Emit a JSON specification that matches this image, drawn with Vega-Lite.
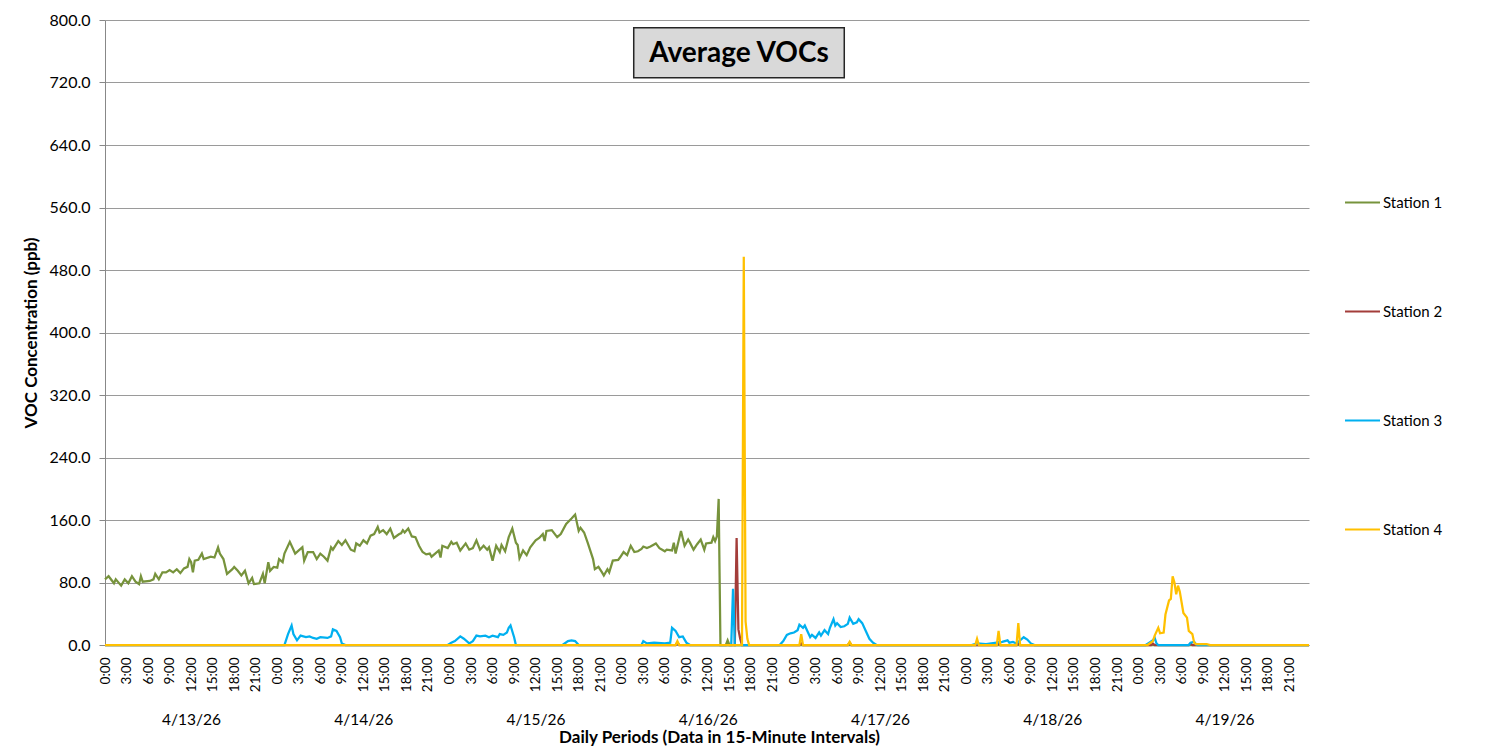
{
"$schema": "https://vega.github.io/schema/vega-lite/v6.json",
"width": 1204,
"height": 625,
"autosize": {"type": "none"},
"padding": {"left": 105, "top": 20, "right": 177, "bottom": 109},
"background": "white",
"layer": [
{
"data": {"format": {"parse": {"t": "date:'%Y-%m-%d %H:%M'"}}, "values": [
{"t":"2026-04-13 00:00","s":"Station 1","v":84},
{"t":"2026-04-13 00:30","s":"Station 1","v":88},
{"t":"2026-04-13 01:15","s":"Station 1","v":79},
{"t":"2026-04-13 01:30","s":"Station 1","v":84},
{"t":"2026-04-13 02:15","s":"Station 1","v":76},
{"t":"2026-04-13 02:45","s":"Station 1","v":84},
{"t":"2026-04-13 03:15","s":"Station 1","v":79},
{"t":"2026-04-13 03:45","s":"Station 1","v":88},
{"t":"2026-04-13 04:15","s":"Station 1","v":81},
{"t":"2026-04-13 04:45","s":"Station 1","v":78},
{"t":"2026-04-13 05:00","s":"Station 1","v":88},
{"t":"2026-04-13 05:15","s":"Station 1","v":81},
{"t":"2026-04-13 06:15","s":"Station 1","v":82},
{"t":"2026-04-13 06:45","s":"Station 1","v":84},
{"t":"2026-04-13 07:00","s":"Station 1","v":91},
{"t":"2026-04-13 07:30","s":"Station 1","v":84},
{"t":"2026-04-13 08:00","s":"Station 1","v":93},
{"t":"2026-04-13 08:30","s":"Station 1","v":93},
{"t":"2026-04-13 09:00","s":"Station 1","v":96},
{"t":"2026-04-13 09:30","s":"Station 1","v":93},
{"t":"2026-04-13 10:00","s":"Station 1","v":97},
{"t":"2026-04-13 10:30","s":"Station 1","v":92},
{"t":"2026-04-13 11:00","s":"Station 1","v":98},
{"t":"2026-04-13 11:30","s":"Station 1","v":100},
{"t":"2026-04-13 11:45","s":"Station 1","v":110},
{"t":"2026-04-13 12:00","s":"Station 1","v":106},
{"t":"2026-04-13 12:15","s":"Station 1","v":93},
{"t":"2026-04-13 12:30","s":"Station 1","v":108},
{"t":"2026-04-13 13:00","s":"Station 1","v":109},
{"t":"2026-04-13 13:30","s":"Station 1","v":117},
{"t":"2026-04-13 13:45","s":"Station 1","v":110},
{"t":"2026-04-13 14:45","s":"Station 1","v":113},
{"t":"2026-04-13 15:15","s":"Station 1","v":112},
{"t":"2026-04-13 15:45","s":"Station 1","v":125},
{"t":"2026-04-13 16:00","s":"Station 1","v":117},
{"t":"2026-04-13 16:30","s":"Station 1","v":110},
{"t":"2026-04-13 17:00","s":"Station 1","v":91},
{"t":"2026-04-13 17:45","s":"Station 1","v":97},
{"t":"2026-04-13 18:00","s":"Station 1","v":100},
{"t":"2026-04-13 18:30","s":"Station 1","v":95},
{"t":"2026-04-13 19:00","s":"Station 1","v":89},
{"t":"2026-04-13 19:30","s":"Station 1","v":95},
{"t":"2026-04-13 20:00","s":"Station 1","v":79},
{"t":"2026-04-13 20:30","s":"Station 1","v":86},
{"t":"2026-04-13 20:45","s":"Station 1","v":78},
{"t":"2026-04-13 21:30","s":"Station 1","v":79},
{"t":"2026-04-13 22:00","s":"Station 1","v":91},
{"t":"2026-04-13 22:15","s":"Station 1","v":79},
{"t":"2026-04-13 22:45","s":"Station 1","v":106},
{"t":"2026-04-13 23:00","s":"Station 1","v":95},
{"t":"2026-04-13 23:30","s":"Station 1","v":100},
{"t":"2026-04-14 00:00","s":"Station 1","v":99},
{"t":"2026-04-14 00:15","s":"Station 1","v":110},
{"t":"2026-04-14 00:45","s":"Station 1","v":106},
{"t":"2026-04-14 01:00","s":"Station 1","v":117},
{"t":"2026-04-14 01:45","s":"Station 1","v":132},
{"t":"2026-04-14 02:30","s":"Station 1","v":117},
{"t":"2026-04-14 03:00","s":"Station 1","v":121},
{"t":"2026-04-14 03:30","s":"Station 1","v":125},
{"t":"2026-04-14 03:45","s":"Station 1","v":108},
{"t":"2026-04-14 04:15","s":"Station 1","v":119},
{"t":"2026-04-14 05:00","s":"Station 1","v":119},
{"t":"2026-04-14 05:30","s":"Station 1","v":110},
{"t":"2026-04-14 06:00","s":"Station 1","v":117},
{"t":"2026-04-14 06:30","s":"Station 1","v":113},
{"t":"2026-04-14 07:00","s":"Station 1","v":108},
{"t":"2026-04-14 07:30","s":"Station 1","v":125},
{"t":"2026-04-14 07:45","s":"Station 1","v":122},
{"t":"2026-04-14 08:30","s":"Station 1","v":133},
{"t":"2026-04-14 09:00","s":"Station 1","v":128},
{"t":"2026-04-14 09:30","s":"Station 1","v":134},
{"t":"2026-04-14 10:15","s":"Station 1","v":122},
{"t":"2026-04-14 10:45","s":"Station 1","v":120},
{"t":"2026-04-14 11:00","s":"Station 1","v":130},
{"t":"2026-04-14 11:30","s":"Station 1","v":127},
{"t":"2026-04-14 12:00","s":"Station 1","v":134},
{"t":"2026-04-14 12:30","s":"Station 1","v":130},
{"t":"2026-04-14 13:00","s":"Station 1","v":140},
{"t":"2026-04-14 13:30","s":"Station 1","v":142},
{"t":"2026-04-14 14:00","s":"Station 1","v":151},
{"t":"2026-04-14 14:15","s":"Station 1","v":144},
{"t":"2026-04-14 14:45","s":"Station 1","v":147},
{"t":"2026-04-14 15:15","s":"Station 1","v":142},
{"t":"2026-04-14 15:45","s":"Station 1","v":149},
{"t":"2026-04-14 16:15","s":"Station 1","v":137},
{"t":"2026-04-14 17:00","s":"Station 1","v":142},
{"t":"2026-04-14 17:15","s":"Station 1","v":143},
{"t":"2026-04-14 17:30","s":"Station 1","v":147},
{"t":"2026-04-14 17:45","s":"Station 1","v":144},
{"t":"2026-04-14 18:15","s":"Station 1","v":149},
{"t":"2026-04-14 18:45","s":"Station 1","v":139},
{"t":"2026-04-14 19:15","s":"Station 1","v":138},
{"t":"2026-04-14 19:45","s":"Station 1","v":127},
{"t":"2026-04-14 20:15","s":"Station 1","v":119},
{"t":"2026-04-14 20:45","s":"Station 1","v":116},
{"t":"2026-04-14 21:15","s":"Station 1","v":117},
{"t":"2026-04-14 21:30","s":"Station 1","v":113},
{"t":"2026-04-14 22:00","s":"Station 1","v":117},
{"t":"2026-04-14 22:30","s":"Station 1","v":121},
{"t":"2026-04-14 22:45","s":"Station 1","v":112},
{"t":"2026-04-14 23:00","s":"Station 1","v":127},
{"t":"2026-04-14 23:45","s":"Station 1","v":124},
{"t":"2026-04-15 00:15","s":"Station 1","v":132},
{"t":"2026-04-15 00:30","s":"Station 1","v":129},
{"t":"2026-04-15 01:00","s":"Station 1","v":131},
{"t":"2026-04-15 01:30","s":"Station 1","v":121},
{"t":"2026-04-15 02:15","s":"Station 1","v":130},
{"t":"2026-04-15 02:45","s":"Station 1","v":122},
{"t":"2026-04-15 03:15","s":"Station 1","v":124},
{"t":"2026-04-15 03:45","s":"Station 1","v":134},
{"t":"2026-04-15 04:15","s":"Station 1","v":122},
{"t":"2026-04-15 04:45","s":"Station 1","v":127},
{"t":"2026-04-15 05:15","s":"Station 1","v":122},
{"t":"2026-04-15 05:30","s":"Station 1","v":125},
{"t":"2026-04-15 06:00","s":"Station 1","v":108},
{"t":"2026-04-15 06:30","s":"Station 1","v":127},
{"t":"2026-04-15 07:00","s":"Station 1","v":119},
{"t":"2026-04-15 07:15","s":"Station 1","v":128},
{"t":"2026-04-15 07:45","s":"Station 1","v":120},
{"t":"2026-04-15 08:15","s":"Station 1","v":138},
{"t":"2026-04-15 08:45","s":"Station 1","v":149},
{"t":"2026-04-15 09:15","s":"Station 1","v":131},
{"t":"2026-04-15 09:30","s":"Station 1","v":128},
{"t":"2026-04-15 09:45","s":"Station 1","v":111},
{"t":"2026-04-15 10:15","s":"Station 1","v":121},
{"t":"2026-04-15 10:45","s":"Station 1","v":115},
{"t":"2026-04-15 11:15","s":"Station 1","v":125},
{"t":"2026-04-15 12:00","s":"Station 1","v":134},
{"t":"2026-04-15 12:30","s":"Station 1","v":137},
{"t":"2026-04-15 13:00","s":"Station 1","v":142},
{"t":"2026-04-15 13:15","s":"Station 1","v":133},
{"t":"2026-04-15 13:30","s":"Station 1","v":146},
{"t":"2026-04-15 14:15","s":"Station 1","v":147},
{"t":"2026-04-15 15:00","s":"Station 1","v":138},
{"t":"2026-04-15 15:30","s":"Station 1","v":142},
{"t":"2026-04-15 16:15","s":"Station 1","v":155},
{"t":"2026-04-15 17:00","s":"Station 1","v":162},
{"t":"2026-04-15 17:30","s":"Station 1","v":167},
{"t":"2026-04-15 18:00","s":"Station 1","v":146},
{"t":"2026-04-15 18:15","s":"Station 1","v":150},
{"t":"2026-04-15 18:45","s":"Station 1","v":144},
{"t":"2026-04-15 19:15","s":"Station 1","v":131},
{"t":"2026-04-15 20:00","s":"Station 1","v":110},
{"t":"2026-04-15 20:15","s":"Station 1","v":97},
{"t":"2026-04-15 20:45","s":"Station 1","v":100},
{"t":"2026-04-15 21:15","s":"Station 1","v":93},
{"t":"2026-04-15 21:30","s":"Station 1","v":89},
{"t":"2026-04-15 22:00","s":"Station 1","v":97},
{"t":"2026-04-15 22:15","s":"Station 1","v":93},
{"t":"2026-04-15 22:45","s":"Station 1","v":108},
{"t":"2026-04-15 23:30","s":"Station 1","v":109},
{"t":"2026-04-15 23:45","s":"Station 1","v":112},
{"t":"2026-04-16 00:15","s":"Station 1","v":119},
{"t":"2026-04-16 00:45","s":"Station 1","v":115},
{"t":"2026-04-16 01:15","s":"Station 1","v":127},
{"t":"2026-04-16 01:45","s":"Station 1","v":119},
{"t":"2026-04-16 02:15","s":"Station 1","v":120},
{"t":"2026-04-16 02:45","s":"Station 1","v":123},
{"t":"2026-04-16 03:00","s":"Station 1","v":126},
{"t":"2026-04-16 03:30","s":"Station 1","v":124},
{"t":"2026-04-16 04:00","s":"Station 1","v":126},
{"t":"2026-04-16 04:45","s":"Station 1","v":130},
{"t":"2026-04-16 05:15","s":"Station 1","v":124},
{"t":"2026-04-16 06:00","s":"Station 1","v":120},
{"t":"2026-04-16 06:15","s":"Station 1","v":122},
{"t":"2026-04-16 07:00","s":"Station 1","v":121},
{"t":"2026-04-16 07:15","s":"Station 1","v":131},
{"t":"2026-04-16 07:30","s":"Station 1","v":117},
{"t":"2026-04-16 08:15","s":"Station 1","v":146},
{"t":"2026-04-16 08:45","s":"Station 1","v":127},
{"t":"2026-04-16 09:15","s":"Station 1","v":135},
{"t":"2026-04-16 09:30","s":"Station 1","v":131},
{"t":"2026-04-16 10:00","s":"Station 1","v":122},
{"t":"2026-04-16 10:30","s":"Station 1","v":129},
{"t":"2026-04-16 11:00","s":"Station 1","v":135},
{"t":"2026-04-16 11:30","s":"Station 1","v":122},
{"t":"2026-04-16 11:45","s":"Station 1","v":130},
{"t":"2026-04-16 12:30","s":"Station 1","v":131},
{"t":"2026-04-16 12:45","s":"Station 1","v":138},
{"t":"2026-04-16 13:00","s":"Station 1","v":133},
{"t":"2026-04-16 13:15","s":"Station 1","v":139},
{"t":"2026-04-16 13:30","s":"Station 1","v":187},
{"t":"2026-04-16 13:45","s":"Station 1","v":0},
{"t":"2026-04-16 14:30","s":"Station 1","v":0},
{"t":"2026-04-16 14:45","s":"Station 1","v":6},
{"t":"2026-04-16 15:00","s":"Station 1","v":0},
{"t":"2026-04-19 23:45","s":"Station 1","v":0},
{"t":"2026-04-13 00:00","s":"Station 2","v":0},
{"t":"2026-04-16 07:30","s":"Station 2","v":0},
{"t":"2026-04-16 07:45","s":"Station 2","v":3},
{"t":"2026-04-16 08:00","s":"Station 2","v":0},
{"t":"2026-04-16 15:45","s":"Station 2","v":0},
{"t":"2026-04-16 16:00","s":"Station 2","v":137},
{"t":"2026-04-16 16:15","s":"Station 2","v":20},
{"t":"2026-04-16 16:30","s":"Station 2","v":8},
{"t":"2026-04-16 16:45","s":"Station 2","v":0},
{"t":"2026-04-17 00:45","s":"Station 2","v":0},
{"t":"2026-04-17 01:00","s":"Station 2","v":2},
{"t":"2026-04-17 01:15","s":"Station 2","v":0},
{"t":"2026-04-17 07:30","s":"Station 2","v":0},
{"t":"2026-04-17 07:45","s":"Station 2","v":3},
{"t":"2026-04-17 08:00","s":"Station 2","v":0},
{"t":"2026-04-18 04:15","s":"Station 2","v":0},
{"t":"2026-04-18 04:30","s":"Station 2","v":3},
{"t":"2026-04-18 04:45","s":"Station 2","v":0},
{"t":"2026-04-18 07:00","s":"Station 2","v":0},
{"t":"2026-04-18 07:15","s":"Station 2","v":3},
{"t":"2026-04-18 07:30","s":"Station 2","v":0},
{"t":"2026-04-19 01:45","s":"Station 2","v":0},
{"t":"2026-04-19 02:00","s":"Station 2","v":2},
{"t":"2026-04-19 02:15","s":"Station 2","v":0},
{"t":"2026-04-19 07:00","s":"Station 2","v":0},
{"t":"2026-04-19 07:15","s":"Station 2","v":2},
{"t":"2026-04-19 07:30","s":"Station 2","v":0},
{"t":"2026-04-19 23:45","s":"Station 2","v":0},
{"t":"2026-04-13 00:00","s":"Station 3","v":0},
{"t":"2026-04-14 01:00","s":"Station 3","v":0},
{"t":"2026-04-14 01:30","s":"Station 3","v":14},
{"t":"2026-04-14 02:00","s":"Station 3","v":25},
{"t":"2026-04-14 02:15","s":"Station 3","v":14},
{"t":"2026-04-14 02:45","s":"Station 3","v":6},
{"t":"2026-04-14 03:15","s":"Station 3","v":12},
{"t":"2026-04-14 04:00","s":"Station 3","v":10},
{"t":"2026-04-14 04:30","s":"Station 3","v":11},
{"t":"2026-04-14 05:00","s":"Station 3","v":9},
{"t":"2026-04-14 05:30","s":"Station 3","v":8},
{"t":"2026-04-14 06:00","s":"Station 3","v":10},
{"t":"2026-04-14 07:00","s":"Station 3","v":9},
{"t":"2026-04-14 07:30","s":"Station 3","v":11},
{"t":"2026-04-14 07:45","s":"Station 3","v":20},
{"t":"2026-04-14 08:15","s":"Station 3","v":18},
{"t":"2026-04-14 08:45","s":"Station 3","v":10},
{"t":"2026-04-14 09:00","s":"Station 3","v":2},
{"t":"2026-04-14 09:30","s":"Station 3","v":0},
{"t":"2026-04-14 23:45","s":"Station 3","v":0},
{"t":"2026-04-15 00:15","s":"Station 3","v":3},
{"t":"2026-04-15 00:45","s":"Station 3","v":5},
{"t":"2026-04-15 01:30","s":"Station 3","v":11},
{"t":"2026-04-15 02:00","s":"Station 3","v":8},
{"t":"2026-04-15 02:45","s":"Station 3","v":2},
{"t":"2026-04-15 03:15","s":"Station 3","v":5},
{"t":"2026-04-15 03:45","s":"Station 3","v":12},
{"t":"2026-04-15 04:15","s":"Station 3","v":11},
{"t":"2026-04-15 05:00","s":"Station 3","v":12},
{"t":"2026-04-15 05:30","s":"Station 3","v":10},
{"t":"2026-04-15 06:00","s":"Station 3","v":12},
{"t":"2026-04-15 06:45","s":"Station 3","v":10},
{"t":"2026-04-15 07:00","s":"Station 3","v":14},
{"t":"2026-04-15 07:30","s":"Station 3","v":13},
{"t":"2026-04-15 08:00","s":"Station 3","v":16},
{"t":"2026-04-15 08:15","s":"Station 3","v":22},
{"t":"2026-04-15 08:30","s":"Station 3","v":25},
{"t":"2026-04-15 09:00","s":"Station 3","v":10},
{"t":"2026-04-15 09:15","s":"Station 3","v":0},
{"t":"2026-04-15 15:45","s":"Station 3","v":0},
{"t":"2026-04-15 16:30","s":"Station 3","v":5},
{"t":"2026-04-15 17:00","s":"Station 3","v":6},
{"t":"2026-04-15 17:30","s":"Station 3","v":5},
{"t":"2026-04-15 18:00","s":"Station 3","v":0},
{"t":"2026-04-16 02:45","s":"Station 3","v":0},
{"t":"2026-04-16 03:00","s":"Station 3","v":5},
{"t":"2026-04-16 03:30","s":"Station 3","v":2},
{"t":"2026-04-16 04:30","s":"Station 3","v":3},
{"t":"2026-04-16 06:00","s":"Station 3","v":2},
{"t":"2026-04-16 06:45","s":"Station 3","v":3},
{"t":"2026-04-16 07:00","s":"Station 3","v":22},
{"t":"2026-04-16 07:30","s":"Station 3","v":18},
{"t":"2026-04-16 08:00","s":"Station 3","v":10},
{"t":"2026-04-16 08:30","s":"Station 3","v":11},
{"t":"2026-04-16 09:00","s":"Station 3","v":3},
{"t":"2026-04-16 09:30","s":"Station 3","v":0},
{"t":"2026-04-16 15:15","s":"Station 3","v":0},
{"t":"2026-04-16 15:30","s":"Station 3","v":72},
{"t":"2026-04-16 15:45","s":"Station 3","v":0},
{"t":"2026-04-16 22:00","s":"Station 3","v":0},
{"t":"2026-04-16 22:30","s":"Station 3","v":5},
{"t":"2026-04-16 23:00","s":"Station 3","v":13},
{"t":"2026-04-16 23:30","s":"Station 3","v":15},
{"t":"2026-04-17 00:00","s":"Station 3","v":16},
{"t":"2026-04-17 00:30","s":"Station 3","v":19},
{"t":"2026-04-17 00:45","s":"Station 3","v":26},
{"t":"2026-04-17 01:15","s":"Station 3","v":22},
{"t":"2026-04-17 01:30","s":"Station 3","v":25},
{"t":"2026-04-17 02:00","s":"Station 3","v":15},
{"t":"2026-04-17 02:15","s":"Station 3","v":10},
{"t":"2026-04-17 02:30","s":"Station 3","v":13},
{"t":"2026-04-17 03:00","s":"Station 3","v":9},
{"t":"2026-04-17 03:30","s":"Station 3","v":16},
{"t":"2026-04-17 03:45","s":"Station 3","v":12},
{"t":"2026-04-17 04:15","s":"Station 3","v":19},
{"t":"2026-04-17 04:45","s":"Station 3","v":14},
{"t":"2026-04-17 05:00","s":"Station 3","v":22},
{"t":"2026-04-17 05:30","s":"Station 3","v":33},
{"t":"2026-04-17 05:45","s":"Station 3","v":25},
{"t":"2026-04-17 06:00","s":"Station 3","v":28},
{"t":"2026-04-17 06:30","s":"Station 3","v":23},
{"t":"2026-04-17 07:00","s":"Station 3","v":24},
{"t":"2026-04-17 07:30","s":"Station 3","v":27},
{"t":"2026-04-17 07:45","s":"Station 3","v":35},
{"t":"2026-04-17 08:15","s":"Station 3","v":27},
{"t":"2026-04-17 08:45","s":"Station 3","v":29},
{"t":"2026-04-17 09:00","s":"Station 3","v":33},
{"t":"2026-04-17 09:30","s":"Station 3","v":28},
{"t":"2026-04-17 10:00","s":"Station 3","v":18},
{"t":"2026-04-17 10:30","s":"Station 3","v":8},
{"t":"2026-04-17 11:00","s":"Station 3","v":3},
{"t":"2026-04-17 11:30","s":"Station 3","v":0},
{"t":"2026-04-18 00:45","s":"Station 3","v":0},
{"t":"2026-04-18 01:30","s":"Station 3","v":2},
{"t":"2026-04-18 02:45","s":"Station 3","v":1},
{"t":"2026-04-18 04:15","s":"Station 3","v":3},
{"t":"2026-04-18 05:00","s":"Station 3","v":4},
{"t":"2026-04-18 05:45","s":"Station 3","v":6},
{"t":"2026-04-18 06:00","s":"Station 3","v":3},
{"t":"2026-04-18 06:30","s":"Station 3","v":4},
{"t":"2026-04-18 07:00","s":"Station 3","v":2},
{"t":"2026-04-18 08:00","s":"Station 3","v":10},
{"t":"2026-04-18 08:30","s":"Station 3","v":7},
{"t":"2026-04-18 09:00","s":"Station 3","v":2},
{"t":"2026-04-18 09:30","s":"Station 3","v":0},
{"t":"2026-04-19 01:00","s":"Station 3","v":0},
{"t":"2026-04-19 01:30","s":"Station 3","v":3},
{"t":"2026-04-19 02:00","s":"Station 3","v":6},
{"t":"2026-04-19 02:15","s":"Station 3","v":9},
{"t":"2026-04-19 02:30","s":"Station 3","v":2},
{"t":"2026-04-19 02:45","s":"Station 3","v":0},
{"t":"2026-04-19 07:00","s":"Station 3","v":0},
{"t":"2026-04-19 07:15","s":"Station 3","v":3},
{"t":"2026-04-19 07:45","s":"Station 3","v":4},
{"t":"2026-04-19 08:00","s":"Station 3","v":1},
{"t":"2026-04-19 08:15","s":"Station 3","v":0},
{"t":"2026-04-19 23:45","s":"Station 3","v":0},
{"t":"2026-04-13 00:00","s":"Station 4","v":0},
{"t":"2026-04-16 07:30","s":"Station 4","v":0},
{"t":"2026-04-16 07:45","s":"Station 4","v":5},
{"t":"2026-04-16 08:00","s":"Station 4","v":0},
{"t":"2026-04-16 16:45","s":"Station 4","v":0},
{"t":"2026-04-16 17:00","s":"Station 4","v":497},
{"t":"2026-04-16 17:15","s":"Station 4","v":30},
{"t":"2026-04-16 17:30","s":"Station 4","v":8},
{"t":"2026-04-16 17:45","s":"Station 4","v":0},
{"t":"2026-04-17 00:45","s":"Station 4","v":0},
{"t":"2026-04-17 01:00","s":"Station 4","v":14},
{"t":"2026-04-17 01:15","s":"Station 4","v":0},
{"t":"2026-04-17 07:30","s":"Station 4","v":0},
{"t":"2026-04-17 07:45","s":"Station 4","v":4},
{"t":"2026-04-17 08:00","s":"Station 4","v":0},
{"t":"2026-04-18 01:15","s":"Station 4","v":0},
{"t":"2026-04-18 01:30","s":"Station 4","v":8},
{"t":"2026-04-18 01:45","s":"Station 4","v":0},
{"t":"2026-04-18 04:15","s":"Station 4","v":0},
{"t":"2026-04-18 04:30","s":"Station 4","v":18},
{"t":"2026-04-18 04:45","s":"Station 4","v":0},
{"t":"2026-04-18 07:00","s":"Station 4","v":0},
{"t":"2026-04-18 07:15","s":"Station 4","v":28},
{"t":"2026-04-18 07:30","s":"Station 4","v":0},
{"t":"2026-04-19 01:15","s":"Station 4","v":0},
{"t":"2026-04-19 02:00","s":"Station 4","v":5},
{"t":"2026-04-19 02:15","s":"Station 4","v":12},
{"t":"2026-04-19 02:45","s":"Station 4","v":22},
{"t":"2026-04-19 03:00","s":"Station 4","v":15},
{"t":"2026-04-19 03:30","s":"Station 4","v":16},
{"t":"2026-04-19 03:45","s":"Station 4","v":39},
{"t":"2026-04-19 04:15","s":"Station 4","v":57},
{"t":"2026-04-19 04:30","s":"Station 4","v":59},
{"t":"2026-04-19 04:45","s":"Station 4","v":88},
{"t":"2026-04-19 05:00","s":"Station 4","v":80},
{"t":"2026-04-19 05:15","s":"Station 4","v":65},
{"t":"2026-04-19 05:30","s":"Station 4","v":76},
{"t":"2026-04-19 05:45","s":"Station 4","v":68},
{"t":"2026-04-19 06:15","s":"Station 4","v":41},
{"t":"2026-04-19 06:45","s":"Station 4","v":35},
{"t":"2026-04-19 07:00","s":"Station 4","v":18},
{"t":"2026-04-19 07:30","s":"Station 4","v":14},
{"t":"2026-04-19 07:45","s":"Station 4","v":3},
{"t":"2026-04-19 08:00","s":"Station 4","v":1},
{"t":"2026-04-19 09:30","s":"Station 4","v":1},
{"t":"2026-04-19 10:00","s":"Station 4","v":0},
{"t":"2026-04-19 23:45","s":"Station 4","v":0}
]},
"mark": {"type": "line", "strokeWidth": 2.25, "interpolate": "linear"},
"encoding": {
"x": {"field": "t", "type": "temporal",
 "scale": {"domain": [{"year": 2026, "month": 4, "date": 13, "hours": 0, "minutes": 0}, {"year": 2026, "month": 4, "date": 19, "hours": 23, "minutes": 45}], "nice": false},
 "axis": {"orient": "bottom", "title": null, "tickCount": 56, "format": "%-H:%M", "labelAngle": -90, "labelFontSize": 13.5, "labelPadding": 12, "ticks": false, "grid": false, "domain": true, "domainColor": "#888888", "labelOverlap": false, "labelFlush": false}},
"y": {"field": "v", "type": "quantitative", "title": "VOC Concentration (ppb)",
 "scale": {"domain": [0, 800], "nice": false},
 "axis": {"values": [0, 80, 160, 240, 320, 400, 480, 560, 640, 720, 800], "format": ".1f", "labelFontSize": 16, "labelPadding": 9, "tickSize": 6, "tickColor": "#888888", "domainColor": "#888888", "grid": true, "gridColor": "#9a9a9a", "titleFontSize": 17, "titleFontWeight": "bold", "titlePadding": 9}},
"color": {"field": "s", "type": "nominal",
 "scale": {"domain": ["Station 1", "Station 2", "Station 3", "Station 4"], "range": ["#77933C", "#A33D3A", "#00B0F0", "#FFC000"]},
 "legend": {"title": null, "orient": "none", "legendX": 1239, "legendY": 164, "symbolType": "stroke", "symbolSize": 1225, "symbolStrokeWidth": 2, "labelFontSize": 15, "labelFont": "Lato", "labelColor": "#000000", "rowPadding": 82, "labelOffset": 2}}
}
},
{
"data": {"values": [{}]},
"mark": {"type": "rect", "fill": "#D9D9D9", "stroke": "#262626", "strokeWidth": 1.5},
"encoding": {
"x": {"datum": {"year": 2026, "month": 4, "date": 16, "hours": 1, "minutes": 40}, "type": "temporal",
 "axis": {"orient": "bottom", "title": "Daily Periods (Data in 15-Minute Intervals)", "tickCount": 7, "format": "%-m/%-d/%y", "labelOffset": 86, "labelAngle": 0, "labelAlign": "center", "labelBaseline": "top", "labelPadding": 67, "labelFontSize": 15.5, "ticks": false, "domain": false, "grid": false, "labelFlush": false, "labelOverlap": false, "titleFontSize": 17, "titleFontWeight": "bold", "titlePadding": 2, "titleX": 614}},
"x2": {"datum": {"year": 2026, "month": 4, "date": 17, "hours": 7, "minutes": 0}},
"y": {"datum": 726, "type": "quantitative", "title": "VOC Concentration (ppb)"},
"y2": {"datum": 790}
}
},
{
"data": {"values": [{}]},
"mark": {"type": "text", "text": "Average VOCs", "font": "Lato", "fontSize": 28, "fontWeight": "bold", "align": "center", "baseline": "middle", "color": "#000000"},
"encoding": {
"x": {"datum": {"year": 2026, "month": 4, "date": 16, "hours": 16, "minutes": 20}, "type": "temporal", "axis": null},
"y": {"datum": 757, "type": "quantitative", "title": "VOC Concentration (ppb)"}
}
}
],
"resolve": {"axis": {"x": "independent"}},
"config": {
"view": {"stroke": null},
"font": "Lato",
"axis": {"labelFont": "Lato", "titleFont": "Lato", "labelColor": "#000000", "titleColor": "#000000"}
}
}
